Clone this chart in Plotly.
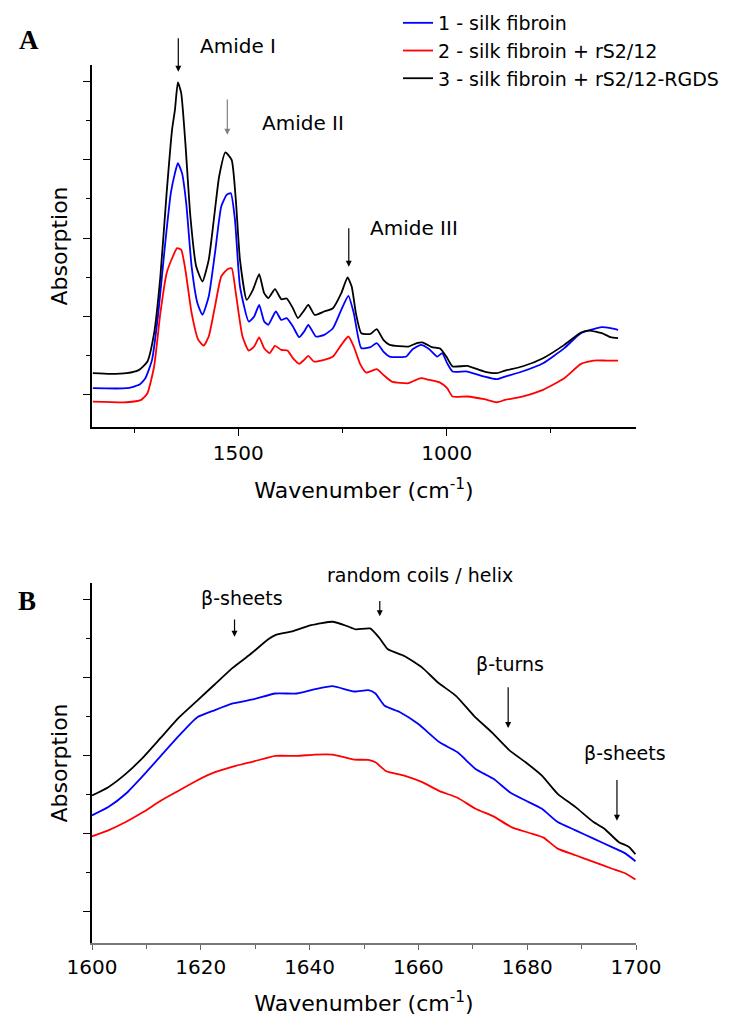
import plotly.graph_objects as go

# ---------------- Panel A : full spectrum ----------------
a_wn_blue = [1849,1768,1738,1723,1707,1692,1677,1662,1652,1645,1635,1625,1612,1598,1586,1571,1556,1541,1528,1518,
             1508,1496,1475,1462,1450,1438,1428,1410,1397,1384,1369,1354,1342,1332,1314,1294,1273,1253,1236,1223,
             1205,1183,1168,1152,1137,1112,1097,1082,1062,1042,1023,1011,999,986,951,910,880,860,819,769,718,678,628,607,589]
a_abs_blue = [0.085,0.085,0.128,0.213,0.447,1.043,1.851,2.574,2.830,2.957,2.830,2.447,1.638,1.170,1.021,1.255,1.809,2.404,2.553,2.574,
              2.234,1.383,0.936,1.0,1.149,0.936,0.894,1.064,0.957,0.979,0.872,0.736,0.809,0.894,0.745,0.766,0.851,1.085,1.264,1.043,
              0.596,0.609,0.660,0.553,0.489,0.481,0.489,0.583,0.638,0.583,0.489,0.532,0.404,0.298,0.298,0.234,0.2,0.234,0.298,0.404,
              0.596,0.787,0.864,0.851,0.830]

a_wn_red = [1849,1768,1733,1718,1702,1687,1672,1657,1647,1637,1627,1612,1596,1583,1571,1556,1541,1526,1516,1506,
            1490,1475,1462,1450,1438,1425,1412,1397,1382,1369,1354,1342,1332,1319,1294,1273,1253,1236,1223,1208,
            1193,1168,1152,1132,1092,1077,1062,1042,1016,999,986,951,910,880,860,819,769,718,678,648,617,589]
a_abs_red = [-0.085,-0.094,-0.064,0.021,0.362,1.043,1.553,1.766,1.872,1.851,1.596,1.043,0.702,0.630,0.745,1.128,1.511,1.604,1.617,1.298,
             0.745,0.566,0.617,0.732,0.596,0.532,0.626,0.574,0.566,0.468,0.396,0.447,0.498,0.426,0.447,0.489,0.638,0.745,0.617,0.396,
             0.285,0.328,0.255,0.170,0.149,0.183,0.213,0.191,0.157,0.085,-0.021,-0.021,-0.055,-0.094,-0.064,-0.021,0.064,0.213,0.396,0.438,
             0.438,0.438]

a_wn_black = [1849,1808,1768,1738,1718,1702,1687,1672,1659,1652,1645,1637,1627,1615,1601,1586,1571,1556,1546,1531,
              1516,1506,1496,1480,1465,1450,1438,1428,1412,1397,1384,1369,1357,1344,1332,1317,1294,1273,1253,1238,
              1228,1218,1205,1183,1168,1152,1137,1092,1072,1057,1036,1016,1001,986,951,910,880,860,819,769,718,678,658,628,607,589]
a_abs_black = [0.277,0.268,0.277,0.319,0.426,0.787,1.511,2.574,3.383,3.638,3.987,3.851,3.213,2.277,1.638,1.447,1.723,2.362,2.787,3.094,
               3.0,2.489,1.723,1.213,1.34,1.54,1.298,1.234,1.349,1.221,1.23,1.106,0.979,1.064,1.149,1.021,1.064,1.106,1.298,1.498,
               1.383,1.043,0.787,0.779,0.838,0.702,0.638,0.617,0.66,0.668,0.609,0.591,0.489,0.362,0.37,0.298,0.277,0.311,0.362,0.468,
               0.638,0.796,0.821,0.787,0.736,0.723]

# ---------------- Panel B : amide I region ----------------
b_wn_blue = [1600,1603,1606.2,1609.4,1612.7,1616,1619.3,1622.6,1625.9,1629.8,1633.7,1637.7,1641,1644.2,1648.2,1650.8,1652.1,
             1653.8,1656.7,1660,1663.9,1667.2,1670.5,1673.8,1676.8,1679.7,1682.7,1685.6,1688.9,1692.2,1695.5,1698.1,1699.9]
b_abs_blue = [1.228,1.334,1.505,1.739,1.995,2.251,2.485,2.579,2.664,2.720,2.792,2.792,2.847,2.886,2.818,2.835,2.792,
              2.634,2.549,2.400,2.165,2.037,1.824,1.697,1.526,1.419,1.313,1.142,1.036,0.929,0.823,0.737,0.639]

b_wn_red = [1600,1603,1606.2,1609.4,1612.7,1616,1619.3,1622.6,1625.9,1629.8,1633.7,1637.7,1641,1644.2,1648.2,1650.8,1652.1,
            1654.1,1657.4,1660.7,1663.9,1667.2,1670.5,1673.8,1677.1,1680.4,1683,1685.6,1688.9,1692.2,1695.5,1698.1,1699.9]
b_abs_red = [0.959,1.036,1.142,1.270,1.419,1.547,1.675,1.782,1.854,1.922,1.991,1.991,2.008,2.008,1.944,1.940,1.910,
             1.795,1.739,1.654,1.539,1.454,1.313,1.215,1.078,1.002,0.942,0.801,0.716,0.631,0.546,0.482,0.405]

b_wn_black = [1600,1603,1606.2,1609.4,1612.7,1616,1619.3,1622.6,1625.9,1629.1,1632.4,1633.7,1637,1640.3,1644.2,1646.9,1648.5,1651.1,
              1652.8,1654.4,1657.4,1660.7,1663.6,1666.9,1670.2,1673.5,1676.8,1679.7,1682.7,1685.6,1688.9,1692.2,1694.2,1696.8,1698.7,1699.9]
b_abs_black = [1.483,1.590,1.760,1.973,2.229,2.485,2.698,2.911,3.124,3.295,3.487,3.542,3.593,3.670,3.713,3.657,3.615,3.627,
               3.508,3.359,3.274,3.124,2.933,2.762,2.506,2.293,2.059,1.910,1.739,1.505,1.334,1.142,1.057,0.887,0.823,0.729]

series_names = ["1 - silk fibroin", "2 - silk fibroin + rS2/12", "3 - silk fibroin + rS2/12-RGDS"]
series_colors = ["#0000FF", "#FF0000", "#000000"]

# labels: (text, text x [data], text y, y ref, arrow x, arrow tail y, arrow head y, arrow colour)
a_labels = [("Amide I", 1501, 1.0217, "paper", 1644, 4.57, 4.125, "#000000"),
            ("Amide II", 1344, 3.47, "y", 1526.4, 3.79, 3.32, "#808080"),
            ("Amide III", 1079, 2.13, "y", 1235, 2.146, 1.635, "#000000")]
b_labels = [("β-sheets", 1627.6, 4.02, "y2", 1626.2, 3.76, 3.52),
            ("random coils / helix", 1660.3, 0.4191, "paper", 1652.9, 4.0, 3.785),
            ("β-turns", 1676.8, 3.17, "y2", 1676.5, 2.89, 2.35),
            ("β-sheets", 1698.0, 2.03, "y2", 1696.5, 1.70, 1.16)]

FONT = "DejaVu Sans"
fig = go.Figure()

a_sets = [(a_wn_blue, a_abs_blue), (a_wn_red, a_abs_red), (a_wn_black, a_abs_black)]
b_sets = [(b_wn_blue, b_abs_blue), (b_wn_red, b_abs_red), (b_wn_black, b_abs_black)]
for (xs, ys), name, col in zip(a_sets, series_names, series_colors):
    fig.add_trace(go.Scatter(x=xs, y=ys, mode="lines", name=name,
                             line=dict(color=col, width=1.8, shape="spline", smoothing=0.5),
                             xaxis="x", yaxis="y"))
for (xs, ys), name, col in zip(b_sets, series_names, series_colors):
    fig.add_trace(go.Scatter(x=xs, y=ys, mode="lines", name=name, showlegend=False,
                             line=dict(color=col, width=1.8, shape="spline", smoothing=0.5),
                             xaxis="x2", yaxis="y2"))

annotations = []
for txt, tx, ty, yr, axx, tail, head, col in a_labels:
    annotations.append(dict(x=tx, y=ty, xref="x", yref=yr, text=txt, showarrow=False,
                            xanchor="center", yanchor="middle",
                            font=dict(family=FONT, size=20, color="black")))
    annotations.append(dict(x=axx, y=head, ax=axx, ay=tail, xref="x", yref="y", axref="x", ayref="y",
                            text="", showarrow=True, arrowhead=2, arrowsize=1, arrowwidth=1.2,
                            arrowcolor=col))
for txt, tx, ty, yr, axx, tail, head in b_labels:
    annotations.append(dict(x=tx, y=ty, xref="x2", yref=yr, text=txt, showarrow=False,
                            xanchor="center", yanchor="middle",
                            font=dict(family=FONT, size=19, color="black")))
    annotations.append(dict(x=axx, y=head, ax=axx, ay=tail, xref="x2", yref="y2", axref="x2", ayref="y2",
                            text="", showarrow=True, arrowhead=2, arrowsize=1, arrowwidth=1.2,
                            arrowcolor="black"))
annotations.append(dict(x=-0.1158, y=1.0285, xref="paper", yref="paper", text="<b>A</b>", showarrow=False,
                        xanchor="center", yanchor="middle",
                        font=dict(family="Liberation Serif", size=27, color="black")))
annotations.append(dict(x=-0.1195, y=0.3895, xref="paper", yref="paper", text="<b>B</b>", showarrow=False,
                        xanchor="center", yanchor="middle",
                        font=dict(family="Liberation Serif", size=27, color="black")))

yaxis_common = dict(range=[-0.41, 4.21], tick0=0, dtick=1, showticklabels=False, ticks="outside",
                    ticklen=7, tickwidth=1.3, tickcolor="black", showline=True, linecolor="black",
                    linewidth=1.6, showgrid=False, zeroline=False,
                    minor=dict(dtick=0.5, ticks="outside", ticklen=4, tickwidth=1.2, tickcolor="black"),
                    title=dict(text="Absorption", font=dict(family=FONT, size=22, color="black"), standoff=9))

fig.update_layout(
    width=734, height=1013,
    margin=dict(l=84, r=106, t=57, b=78, autoexpand=False),
    paper_bgcolor="white", plot_bgcolor="white",
    font=dict(family=FONT, size=20, color="black"),
    xaxis=dict(domain=[0, 1], anchor="y", range=[1851, 546], tick0=1000, dtick=500,
               ticks="outside", ticklen=7, tickwidth=1.3, tickcolor="black",
               showline=True, linecolor="black", linewidth=1.6, showgrid=False, zeroline=False,
               tickfont=dict(family=FONT, size=20, color="black"),
               minor=dict(dtick=250, ticks="outside", ticklen=4, tickwidth=1.2, tickcolor="black"),
               title=dict(text="Wavenumber (cm<sup>-1</sup>)", font=dict(family=FONT, size=22, color="black"),
                          standoff=19)),
    yaxis=dict(domain=[0.5877, 1], anchor="x", **yaxis_common),
    xaxis2=dict(domain=[0, 1], anchor="y2", range=[1600, 1700], tick0=1600, dtick=20,
                ticks="outside", ticklen=5, tickwidth=1.3, tickcolor="#666666",
                showline=True, linecolor="#777777", linewidth=1.6, showgrid=False, zeroline=False,
                tickfont=dict(family=FONT, size=20, color="black"),
                minor=dict(dtick=10, ticks="outside", ticklen=4, tickwidth=1.2, tickcolor="#666666"),
                title=dict(text="Wavenumber (cm<sup>-1</sup>)", font=dict(family=FONT, size=22, color="black"),
                           standoff=18)),
    yaxis2=dict(domain=[0, 0.41], anchor="x2", **yaxis_common),
    legend=dict(x=0.5625, y=1.0695, xref="paper", yref="paper", xanchor="left", yanchor="top",
                bgcolor="rgba(0,0,0,0)", borderwidth=0, font=dict(family=FONT, size=19, color="black"),
                tracegroupgap=0),
    annotations=annotations,
    showlegend=True,
)

fig.write_html("out.html")
